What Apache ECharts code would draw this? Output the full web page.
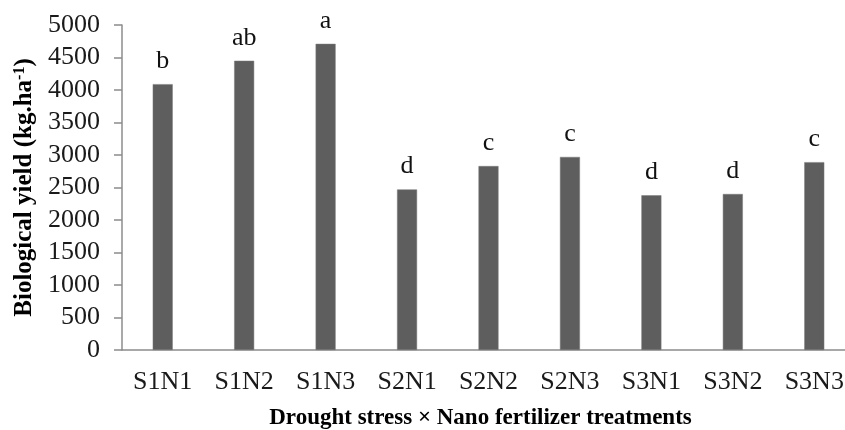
<!DOCTYPE html>
<html>
<head>
<meta charset="utf-8">
<script src="https://cdn.jsdelivr.net/npm/echarts@6/dist/echarts.min.js"></script>
<style>
  html, body { margin: 0; padding: 0; background: #fff; }
  #main { width: 845px; height: 430px; }
</style>
</head>
<body>
<div id="main"></div>
<script>
var treatments = ['S1N1', 'S1N2', 'S1N3', 'S2N1', 'S2N2', 'S2N3', 'S3N1', 'S3N2', 'S3N3'];
var biologicalYield = [4090, 4450, 4710, 2470, 2830, 2970, 2380, 2400, 2890];
var groupLetters = ['b', 'ab', 'a', 'd', 'c', 'c', 'd', 'd', 'c'];

var font = '"Liberation Serif", "Times New Roman", serif';

var chart = echarts.init(document.getElementById('main'));
chart.setOption({
    animation: false,
    textStyle: { fontFamily: font },
    grid: { left: 122, right: -10, top: 25, bottom: 80, containLabel: false, outerBoundsMode: 'none' },
    xAxis: {
        type: 'category',
        data: treatments,
        name: 'Drought stress \u00d7 Nano fertilizer treatments',
        nameLocation: 'middle',
        nameGap: 57,
        nameTextStyle: { fontFamily: font, fontWeight: 'bold', fontSize: 23, color: '#000', padding: [0, 16, 0, 0] },
        axisLine: { lineStyle: { color: '#8c8c8c', width: 1.5 } },
        axisTick: { show: false },
        axisLabel: { fontFamily: font, fontSize: 26, color: '#1a1a1a', margin: 19 }
    },
    yAxis: {
        type: 'value',
        min: 0,
        max: 5000,
        interval: 500,
        name: '{t|Biological yield (kg.ha}{s|-1}{t|)}',
        nameLocation: 'middle',
        nameGap: 83,
        nameRotate: 90,
        nameTextStyle: {
            rich: {
                t: { fontFamily: font, fontWeight: 'bold', fontSize: 25, color: '#000' },
                s: { fontFamily: font, fontWeight: 'bold', fontSize: 16, color: '#000', verticalAlign: 'top', padding: [0, 0, 10, 0] }
            }
        },
        axisLine: { show: true, lineStyle: { color: '#8c8c8c', width: 1.5 } },
        axisTick: { show: true, length: 8, lineStyle: { color: '#8c8c8c', width: 1.5 } },
        splitLine: { show: false },
        axisLabel: {
            fontFamily: font, fontSize: 26, color: '#1a1a1a', margin: 22,
            formatter: function (v) { return String(v); }
        }
    },
    series: [{
        type: 'bar',
        data: biologicalYield,
        barWidth: 20,
        itemStyle: { color: '#5e5e5e', borderColor: '#7a7a7a', borderWidth: 0.5 },
        label: {
            show: true,
            position: 'top',
            distance: 10,
            fontFamily: font,
            fontSize: 26,
            color: '#111',
            formatter: function (p) { return groupLetters[p.dataIndex]; }
        }
    }]
});
</script>
</body>
</html>
